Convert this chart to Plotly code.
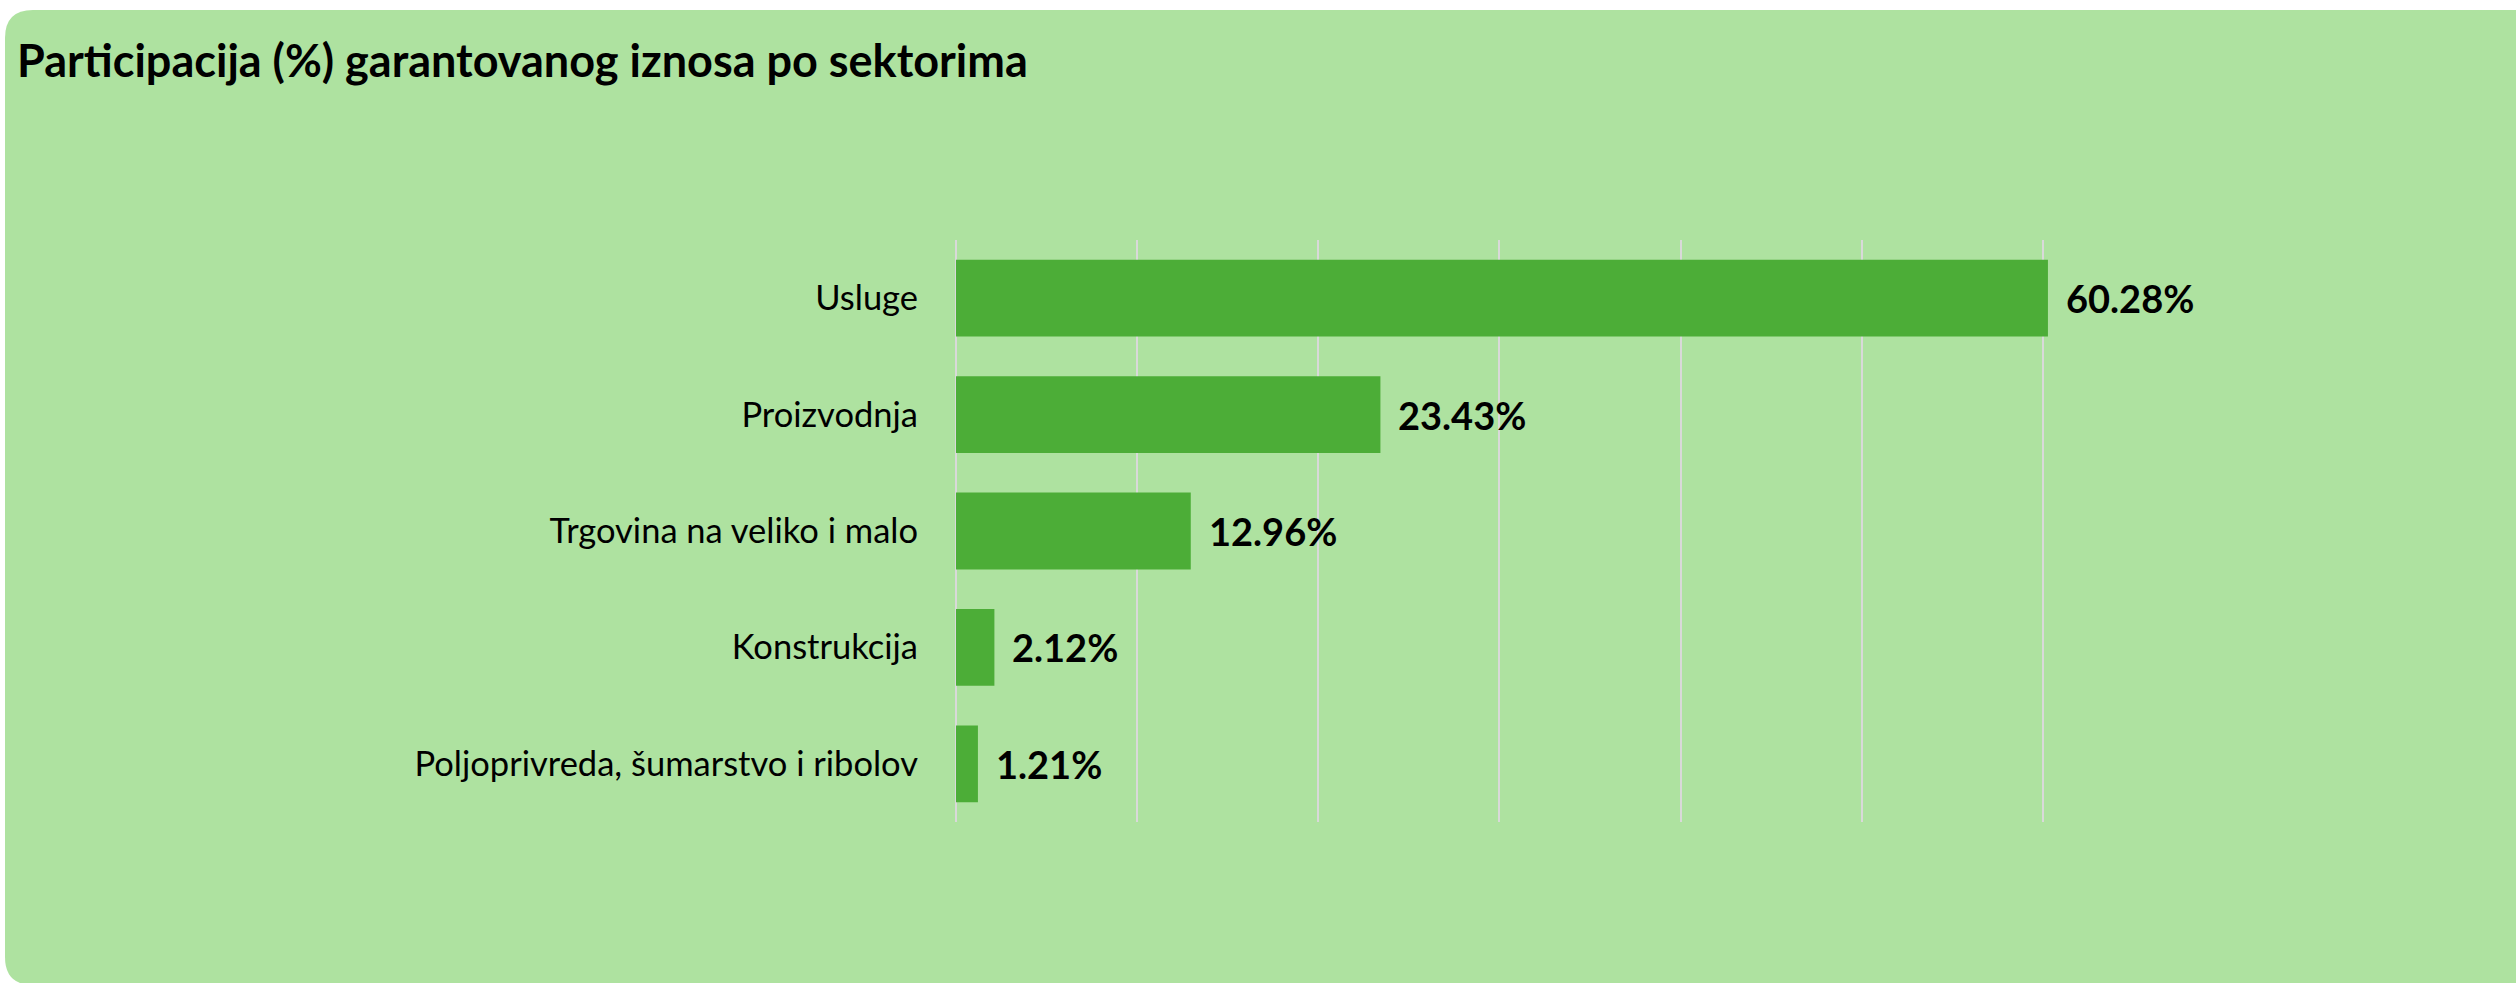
import plotly.graph_objects as go

categories = ["Usluge", "Proizvodnja", "Trgovina na veliko i malo", "Konstrukcija",
              "Poljoprivreda, šumarstvo i ribolov"]
values = [60.28, 23.43, 12.96, 2.12, 1.21]
labels = ["60.28%", "23.43%", "12.96%", "2.12%", "1.21%"]
title_text = "Participacija (%) garantovanog iznosa po sektorima"

W, H = 2516, 983
L, R, T, B = 956, 292, 240, 161
PW, PH = W - L - R, H - T - B

def px(x):
    return (x - L) / PW

def py(y):
    return 1 - (y - T) / PH

BG = "#AEE2A0"
BAR = "#4CAD37"

fig = go.Figure()
fig.add_trace(go.Bar(
    x=values, y=categories, orientation="h",
    marker=dict(color=BAR, line=dict(width=0)),
    hoverinfo="skip",
))

for v, c, t in zip(values, categories, labels):
    fig.add_annotation(x=v, y=c, text="<b>%s</b>" % t, showarrow=False,
                       xanchor="left", yanchor="middle", xshift=16,
                       font=dict(family="Lato", size=38, color="#000000"))

# rounded card background
r = 28
x0, y0, x1, y1 = 5, 10, W + 40, H + 2
path = (f"M {px(x0 + r)},{py(y0)} L {px(x1)},{py(y0)} L {px(x1)},{py(y1)} "
        f"L {px(x0 + r)},{py(y1)} Q {px(x0)},{py(y1)} {px(x0)},{py(y1 - r)} "
        f"L {px(x0)},{py(y0 + r)} Q {px(x0)},{py(y0)} {px(x0 + r)},{py(y0)} Z")
fig.add_shape(type="path", path=path, xref="paper", yref="paper",
              fillcolor=BG, line=dict(width=0), layer="below")

fig.update_layout(
    width=W, height=H,
    margin=dict(l=L, r=R, t=T, b=B, pad=0),
    paper_bgcolor="#FFFFFF",
    plot_bgcolor="rgba(0,0,0,0)",
    showlegend=False,
    bargap=0.34,
    title=dict(text="<b>%s</b>" % title_text, x=17 / W, xanchor="left",
               y=1 - 61 / H, yanchor="middle",
               font=dict(family="Lato", size=45, color="#000000")),
    font=dict(family="Lato", color="#000000"),
)
fig.update_xaxes(range=[0, 70], dtick=10, showticklabels=False,
                 showgrid=True, gridcolor="#D9D9D9", gridwidth=1.5,
                 zeroline=True, zerolinecolor="#D9D9D9", zerolinewidth=1.5,
                 showline=False, fixedrange=True)
fig.update_yaxes(autorange="reversed", showgrid=False, zeroline=False,
                 ticks="", ticklabelstandoff=37,
                 tickfont=dict(family="Lato", size=34.5, color="#000000"),
                 fixedrange=True)

fig.write_html("out.html", config={"displayModeBar": False},
               post_script="document.body.style.margin='0';document.body.style.overflow='hidden';")
